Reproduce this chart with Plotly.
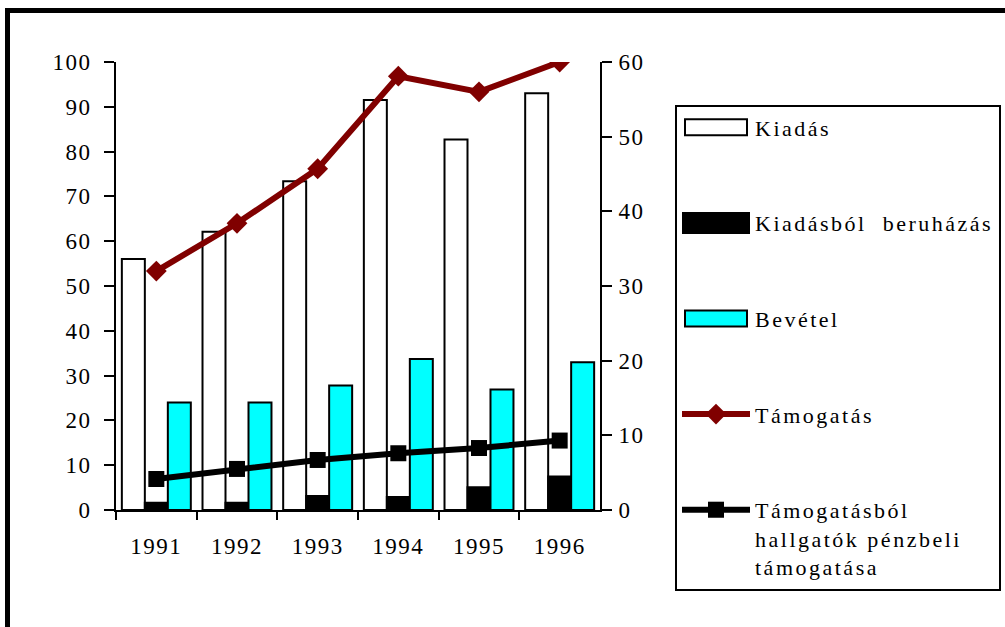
import plotly.graph_objects as go

years = ['1991', '1992', '1993', '1994', '1995', '1996']
kiadas = [56.0, 62.1, 73.4, 91.5, 82.7, 93.0]
beruhazas = [1.6, 1.6, 3.1, 2.9, 5.1, 7.5]
bevetel = [24.0, 24.0, 27.8, 33.7, 26.9, 33.0]
tamogatas = [32.0, 38.4, 45.7, 58.1, 56.0, 60.0]
hallgatoi = [4.15, 5.5, 6.7, 7.6, 8.3, 9.3]

left_ticks = list(range(0, 101, 10))
right_ticks = list(range(0, 61, 10))

names = ["Kiadás",
         "Kiadásból\u00a0 beruházás",
         "Bevétel",
         "Támogatás",
         "Támogatásból<br>hallgatók pénzbeli<br>támogatása"]

FONT = "Liberation Serif, Times New Roman, Times, serif"
W, H = 1005, 627

fig = go.Figure()
fig.add_trace(go.Bar(x=years, y=kiadas, name=names[0], legendgroup="a",
                     marker=dict(color="white", line=dict(color="black", width=2))))
fig.add_trace(go.Bar(x=years, y=beruhazas, name=names[1], legendgroup="b",
                     marker=dict(color="black", line=dict(color="black", width=2))))
fig.add_trace(go.Bar(x=years, y=bevetel, name=names[2], legendgroup="c",
                     marker=dict(color="#00FFFF", line=dict(color="black", width=2))))
fig.add_trace(go.Scatter(x=years, y=tamogatas, name=names[3], legendgroup="d",
                         yaxis="y2", mode="lines+markers",
                         line=dict(color="#800000", width=6),
                         marker=dict(symbol="diamond", size=16, color="#800000")))
fig.add_trace(go.Scatter(x=years, y=hallgatoi, name=names[4],
                         legendgroup="e", yaxis="y2", mode="lines+markers",
                         line=dict(color="black", width=6),
                         marker=dict(symbol="square", size=16, color="black")))

xd = [116 / W, 600 / W]
yd = [1 - 510 / H, 1 - 62 / H]
tickfont = dict(family=FONT, size=23, color="black")

common_tick = dict(tickwidth=2, tickcolor="black", showgrid=False,
                   zeroline=False, automargin=False)

fig.update_layout(
    width=W, height=H,
    margin=dict(l=0, r=0, t=0, b=0),
    paper_bgcolor="white", plot_bgcolor="white",
    barmode="group", bargap=0.145, bargroupgap=0,
    font=dict(family=FONT, size=22, color="black"),
    xaxis=dict(domain=xd, type="category", range=[-0.5, 5.5],
               tickson="boundaries", ticks="outside", ticklen=8,
               showline=True, linecolor="black", linewidth=2,
               tickfont=tickfont, ticklabelstandoff=14, **common_tick),
    xaxis3=dict(domain=xd, overlaying="x", anchor="y", type="linear",
                range=[-0.5, 5.5], tickvals=[i - 0.5 for i in range(7)],
                ticks="inside", ticklen=8, showticklabels=False,
                showline=False, **common_tick),
    yaxis=dict(domain=yd, range=[0, 100], tickvals=left_ticks,
               ticks="outside", ticklen=10,
               showline=True, linecolor="black", linewidth=2,
               tickfont=tickfont, ticklabelstandoff=8, **common_tick),
    yaxis3=dict(domain=yd, overlaying="y", anchor="x", range=[0, 100],
                tickvals=left_ticks, ticks="inside", ticklen=10,
                showticklabels=False, showline=False, **common_tick),
    yaxis2=dict(domain=yd, overlaying="y", side="right", anchor="x",
                range=[0, 60], tickvals=right_ticks,
                ticks="outside", ticklen=10,
                showline=True, linecolor="black", linewidth=2,
                tickfont=tickfont, ticklabelstandoff=2, **common_tick),
    yaxis4=dict(domain=yd, overlaying="y", side="right", anchor="x",
                range=[0, 60], tickvals=right_ticks, ticks="inside",
                ticklen=10, showticklabels=False, showline=False,
                **common_tick),
    legend=dict(x=675 / W, y=1 - 104.5 / H, xanchor="left", yanchor="top",
                bordercolor="black", borderwidth=2, bgcolor="white",
                font=dict(family=FONT, size=21.9, color="black"),
                itemwidth=68, tracegroupgap=64, valign="top",
                traceorder="grouped"),
    showlegend=True,
    shapes=[dict(type="rect", xref="paper", yref="paper",
                 x0=7.5 / W, x1=1.05, y0=-0.05, y1=1 - 10.5 / H,
                 line=dict(color="black", width=5), fillcolor="rgba(0,0,0,0)",
                 layer="above")],
)

post = """
document.body.style.margin='0';
document.body.style.overflow='hidden';
var st=document.createElement('style');
st.textContent=".legendtext{letter-spacing:2.5px;} g.xtick text, g.ytick text, g.y2tick text{letter-spacing:1.5px;}";
document.head.appendChild(st);
var gd=document.getElementById('{plot_id}');
function fixSymbols(){
  document.querySelectorAll('.legend .traces').forEach(function(t,i){
    var d = (i==1) ? 'M33,10H-33V-10H33Z' : 'M31,8H-31V-8H31Z';
    if(i<3){ t.querySelectorAll('.legendpoints path').forEach(function(p){p.setAttribute('d',d);}); }
  });
}
return Plotly.relayout(gd, {'legend.font.size':22}).then(fixSymbols, fixSymbols);
"""

fig.write_html("out.html", config={"displayModeBar": False}, post_script=post)
